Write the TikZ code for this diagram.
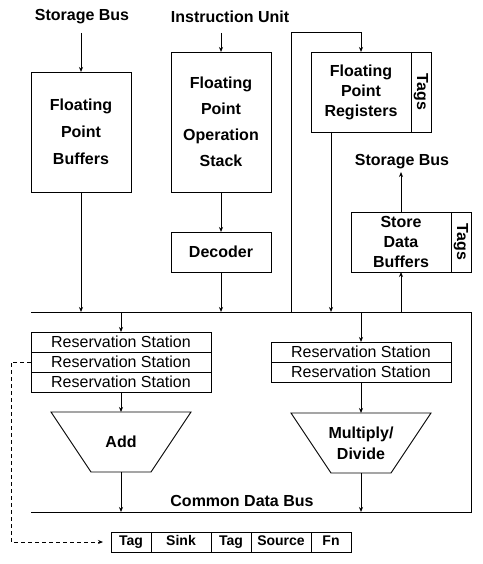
\documentclass[tikz,border=0pt]{standalone}
\usepackage{fontspec}
\setmainfont{Liberation Sans}
\usetikzlibrary{calc,arrows.meta}
\begin{document}
\begin{tikzpicture}[x=1pt,y=-1pt,line width=0.9pt,
  box/.style={draw, inner sep=0pt, outer sep=0pt, align=center},
  arr/.style={-{Stealth[length=5pt,width=4pt]}},
  lab/.style={font=\bfseries\fontsize{16}{20}\selectfont},
  rs/.style={draw, minimum width=180pt, minimum height=20pt, inner sep=0pt, outer sep=0pt, font=\fontsize{16}{20}\selectfont},
  cell/.style={draw, minimum height=20pt, inner sep=0pt, outer sep=0pt, text height=10.5pt, text depth=3pt, font=\bfseries\fontsize{14}{16}\selectfont},
  unit/.style={inner sep=0pt, outer sep=0pt, minimum width=140pt, minimum height=60pt, align=center, font=\bfseries\fontsize{16}{21}\selectfont}]
\useasboundingbox (0,0) rectangle (482,564);

% top labels
\node[lab] (sbl) at (82,17) {Storage Bus};
\node[lab] (iul) at (230,17) {Instruction Unit};

% boxes
\node[box, minimum width=100pt, minimum height=120pt, font=\bfseries\fontsize{16}{27}\selectfont] (fpb) at (81,132) {Floating\\Point\\Buffers};
\node[box, minimum width=100pt, minimum height=140pt, font=\bfseries\fontsize{16}{26}\selectfont] (fpos) at (221,122) {Floating\\Point\\Operation\\Stack};
\node[box, minimum width=100pt, minimum height=40pt, font=\bfseries\fontsize{16}{20}\selectfont] (dec) at (221,252) {Decoder};
\node[box, minimum width=100pt, minimum height=80pt, font=\bfseries\fontsize{16}{20}\selectfont] (fpr) at (361,92) {Floating\\Point\\Registers};
\node[box, minimum width=20pt, minimum height=80pt, font=\bfseries\fontsize{16}{20}\selectfont] (fprt) at (421,92) {\rotatebox{-90}{Tags}};
\node[lab] (sbr) at (402,162) {Storage Bus};
\node[box, minimum width=100pt, minimum height=60pt, font=\bfseries\fontsize{16}{20}\selectfont] (sdb) at (401,242) {Store\\Data\\Buffers};
\node[box, minimum width=20pt, minimum height=60pt, font=\bfseries\fontsize{16}{20}\selectfont] (sdbt) at (461,242) {\rotatebox{-90}{Tags}};

% common data bus loop
\coordinate (b1) at (31,312);
\coordinate (b2) at (471,312);
\coordinate (b3) at (471,512);
\coordinate (b4) at (31,512);
\draw (b1) -- (b2) -- (b3) -- (b4);
\node[lab] (cdb) at (242,501) {Common Data Bus};

% upper arrows
\draw[arr] ($(fpb.north)+(0,-39)$) -- (fpb.north);
\draw[arr] ($(fpos.north)+(0,-19)$) -- (fpos.north);
\draw[arr] (fpos.south) -- (dec.north);
\draw[arr] (fpb.south) -- (fpb.south |- b1);
\draw[arr] (dec.south) -- (dec.south |- b1);
\coordinate (lb) at (291,312);
\draw[arr] (lb) |- ($(fpr.north)+(0,-20)$) -- (fpr.north);
\coordinate (fprb) at ($(fpr.south)+(-30,0)$);
\draw[arr] (fprb) -- (fprb |- b1);
\draw[arr] (sdb.south |- b1) -- (sdb.south);
\draw[arr] (sdb.north) -- ($(sdb.north)+(0,-40)$);

% add unit
\node[rs] (ra1) at (121,342) {Reservation Station};
\node[rs] (ra2) at (121,362) {Reservation Station};
\node[rs] (ra3) at (121,382) {Reservation Station};
\draw[arr] (ra1.north |- b1) -- (ra1.north);
\node[unit] (addu) at (121,442) {Add};
\draw (addu.north west) -- (addu.north east) -- ([xshift=-40pt]addu.south east) -- ([xshift=40pt]addu.south west) -- cycle;
\draw[arr] (ra3.south) -- (addu.north);
\draw[arr] (addu.south) -- (addu.south |- b4);

% multiply/divide unit
\node[rs] (rm1) at (361,352) {Reservation Station};
\node[rs] (rm2) at (361,372) {Reservation Station};
\draw[arr] (rm1.north |- b1) -- (rm1.north);
\node[unit] (mdu) at (361,443) {Multiply/\\Divide};
\draw (mdu.north west) -- (mdu.north east) -- ([xshift=-40pt]mdu.south east) -- ([xshift=40pt]mdu.south west) -- cycle;
\draw[arr] (rm2.south) -- (mdu.north);
\draw[arr] (mdu.south) -- (mdu.south |- b4);

% tag record
\node[cell, minimum width=40pt] (c1) at (131,542) {Tag};
\node[cell, minimum width=60pt] (c2) at (181,542) {Sink};
\node[cell, minimum width=40pt] (c3) at (231,542) {Tag};
\node[cell, minimum width=60pt] (c4) at (281,542) {Source};
\node[cell, minimum width=40pt] (c5) at (331,542) {Fn};
\draw[arr, dash pattern=on 4pt off 3pt, shorten >=8pt] (ra2.west) -- ++(-20,0) |- (c1.west);
\end{tikzpicture}
\end{document}
